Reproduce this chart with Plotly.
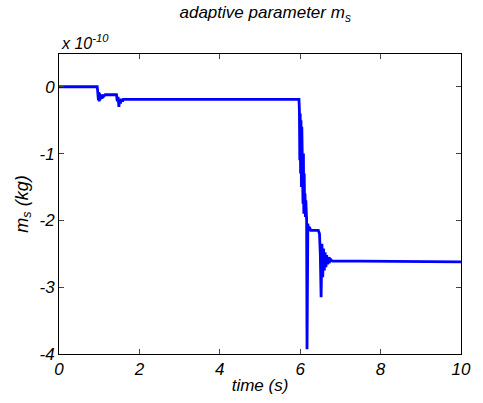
import plotly.graph_objects as go

# time (s)
t = [0, 0.95, 0.96, 0.98, 0.99, 1.00, 1.01, 1.02, 1.03, 1.05, 1.07, 1.10, 1.15, 1.43,
     1.45, 1.47, 1.49, 1.51, 1.53, 1.55, 1.58, 1.60, 1.65, 3.0, 5.97,
     5.98, 5.99, 6.00, 6.01, 6.02, 6.03, 6.04, 6.05, 6.06, 6.07, 6.08, 6.09, 6.10,
     6.11, 6.12, 6.13, 6.14, 6.16, 6.17, 6.19, 6.21, 6.23, 6.26, 6.45, 6.48, 6.50,
     6.52, 6.54, 6.56, 6.58, 6.60, 6.62, 6.64, 6.66, 6.68, 6.70, 6.72, 6.75, 6.80,
     7.50, 10.0]
# m_s (x 1e-10 kg)
ms = [0, 0, -0.05, -0.20, -0.08, -0.22, -0.10, -0.20, -0.12, -0.18, -0.12, -0.15, -0.12, -0.12,
      -0.22, -0.15, -0.30, -0.18, -0.25, -0.18, -0.22, -0.19, -0.19, -0.19, -0.19,
      -0.35, -1.10, -0.40, -1.30, -0.50, -1.50, -0.60, -1.45, -0.90, -1.75, -1.00, -1.90, -1.30,
      -1.85, -1.60, -1.95, -1.70, -2.00, -3.93, -2.05, -2.15, -2.10, -2.15, -2.15, -2.20, -2.50,
      -3.15, -2.35, -2.85, -2.42, -2.75, -2.48, -2.70, -2.52, -2.66, -2.55, -2.64, -2.58, -2.61,
      -2.61, -2.62]

x_ticks = [0, 2, 4, 6, 8, 10]
y_ticks = [0, -1, -2, -3, -4]
y_ticktext = ["0", "-1", "-2", "-3", "-4"]

font = "Liberation Sans, Arial, sans-serif"

fig = go.Figure()
fig.add_trace(go.Scatter(x=t, y=ms, mode="lines",
                         line=dict(color="#0000FF", width=2.8)))

fig.update_layout(
    width=483, height=403,
    margin=dict(l=59, r=12, t=54, b=48),
    paper_bgcolor="white", plot_bgcolor="white",
    showlegend=False,
    font=dict(family=font, color="black"),
    title=dict(text="adaptive parameter m<sub>s</sub>", x=0.549, xanchor="center",
               y=0.985, yanchor="top",
               font=dict(size=17, style="italic", family=font)),
)
fig.update_xaxes(range=[0, 10], tickvals=x_ticks, ticks="inside", ticklen=5,
                 showline=True, linecolor="black", linewidth=1, mirror="ticks",
                 showgrid=False, zeroline=False,
                 tickfont=dict(size=17, style="italic", family=font),
                 title=dict(text="time (s)", standoff=0,
                            font=dict(size=17, style="italic", family=font)))
fig.update_yaxes(range=[-4, 0.49], tickvals=y_ticks, ticktext=y_ticktext,
                 ticks="inside", ticklen=5,
                 showline=True, linecolor="black", linewidth=1, mirror="ticks",
                 showgrid=False, zeroline=False,
                 tickfont=dict(size=17, style="italic", family=font),
                 title=dict(text="m<sub>s</sub> (kg)", standoff=6,
                            font=dict(size=18, style="italic", family=font)))
fig.add_annotation(text="x 10<sup>-10</sup>", xref="paper", yref="paper",
                   x=0, y=1.0, xanchor="left", yanchor="bottom", showarrow=False,
                   font=dict(size=16, style="italic", family=font))

fig.write_html("out.html")
